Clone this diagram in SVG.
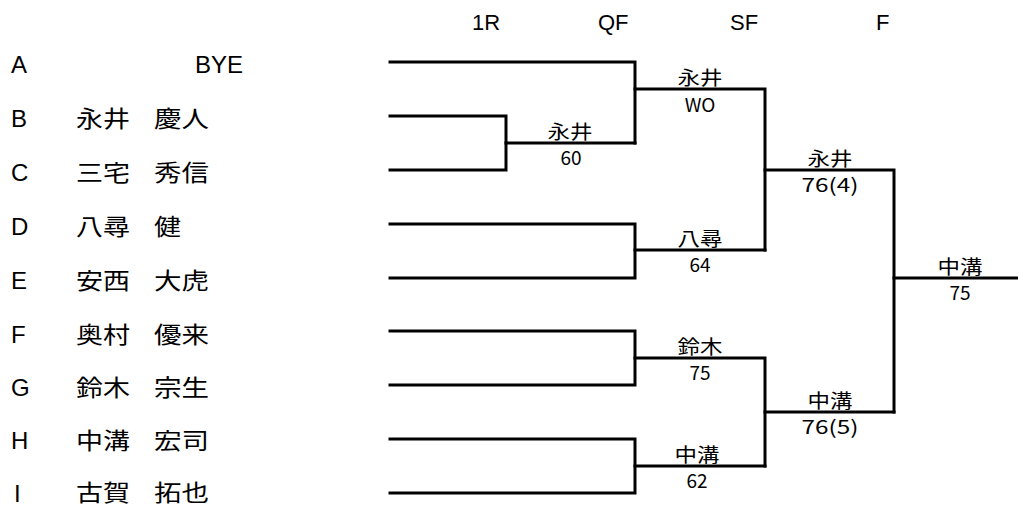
<svg xmlns="http://www.w3.org/2000/svg" width="1018" height="506" viewBox="0 0 1018 506">
<style>
.ln{fill:none;stroke:#000;stroke-width:3;stroke-linecap:square;stroke-linejoin:miter}
.lt{font-family:"Liberation Sans",Arial,sans-serif;font-size:24px;fill:#000}
.hd{font-family:"Liberation Sans",Arial,sans-serif;font-size:22px;fill:#000}
.nm{font-family:"Noto Sans CJK JP","Noto Sans CJK SC",sans-serif;font-size:23px;fill:#000}
.lb{font-family:"Noto Sans CJK JP","Noto Sans CJK SC",sans-serif;font-size:19px;fill:#000;text-anchor:middle}
</style>
<rect width="1018" height="506" fill="#fff"/>
<g id="header">
<text class="hd" x="472" y="30">1R</text>
<text class="hd" x="598" y="30">QF</text>
<text class="hd" x="730" y="30">SF</text>
<text class="hd" x="876" y="30">F</text>
</g>
<g id="player-A"><text class="lt" x="11" y="73">A</text><text class="lt" x="195" y="73">BYE</text></g>
<g id="player-B"><text class="lt" x="11" y="127">B</text><text class="nm" x="76" y="127" textLength="54" lengthAdjust="spacingAndGlyphs">永井</text><text class="nm" x="154" y="127" textLength="55" lengthAdjust="spacingAndGlyphs">慶人</text></g>
<g id="player-C"><text class="lt" x="11" y="181">C</text><text class="nm" x="76" y="181" textLength="54" lengthAdjust="spacingAndGlyphs">三宅</text><text class="nm" x="154" y="181" textLength="55" lengthAdjust="spacingAndGlyphs">秀信</text></g>
<g id="player-D"><text class="lt" x="11" y="235">D</text><text class="nm" x="76" y="235" textLength="54" lengthAdjust="spacingAndGlyphs">八尋</text><text class="nm" x="154" y="235" textLength="27" lengthAdjust="spacingAndGlyphs">健</text></g>
<g id="player-E"><text class="lt" x="11" y="289">E</text><text class="nm" x="76" y="289" textLength="54" lengthAdjust="spacingAndGlyphs">安西</text><text class="nm" x="154" y="289" textLength="55" lengthAdjust="spacingAndGlyphs">大虎</text></g>
<g id="player-F"><text class="lt" x="11" y="343">F</text><text class="nm" x="76" y="343" textLength="54" lengthAdjust="spacingAndGlyphs">奥村</text><text class="nm" x="154" y="343" textLength="55" lengthAdjust="spacingAndGlyphs">優来</text></g>
<g id="player-G"><text class="lt" x="11" y="396">G</text><text class="nm" x="76" y="396" textLength="54" lengthAdjust="spacingAndGlyphs">鈴木</text><text class="nm" x="154" y="396" textLength="55" lengthAdjust="spacingAndGlyphs">宗生</text></g>
<g id="player-H"><text class="lt" x="11" y="449">H</text><text class="nm" x="76" y="449" textLength="54" lengthAdjust="spacingAndGlyphs">中溝</text><text class="nm" x="154" y="449" textLength="55" lengthAdjust="spacingAndGlyphs">宏司</text></g>
<g id="player-I"><text class="lt" x="14" y="502">I</text><text class="nm" x="76" y="501" textLength="54" lengthAdjust="spacingAndGlyphs">古賀</text><text class="nm" x="154" y="501" textLength="55" lengthAdjust="spacingAndGlyphs">拓也</text></g>
<g id="connectors">
<path class="ln" d="M390 62H635V143"/>
<path class="ln" d="M390 116H506V170H390"/>
<path class="ln" d="M506 143H635"/>
<path class="ln" d="M635 89H765V250"/>
<path class="ln" d="M390 224H635V278H390"/>
<path class="ln" d="M635 250H765"/>
<path class="ln" d="M765 170H894V412"/>
<path class="ln" d="M390 331H635V385H390"/>
<path class="ln" d="M635 358H765V466"/>
<path class="ln" d="M390 439H635V493H390"/>
<path class="ln" d="M635 466H765"/>
<path class="ln" d="M765 412H894"/>
<path class="ln" d="M894 278H1018"/>
</g>
<g id="match-1R"><text class="lb" x="570" y="139" textLength="45" lengthAdjust="spacingAndGlyphs">永井</text><text class="lb" x="571" y="165">60</text></g>
<g id="match-QF1"><text class="lb" x="700" y="85" textLength="45" lengthAdjust="spacingAndGlyphs">永井</text><text class="lb" x="700" y="112">WO</text></g>
<g id="match-QF2"><text class="lb" x="700" y="246" textLength="45" lengthAdjust="spacingAndGlyphs">八尋</text><text class="lb" x="700" y="272">64</text></g>
<g id="match-QF3"><text class="lb" x="700" y="354" textLength="45" lengthAdjust="spacingAndGlyphs">鈴木</text><text class="lb" x="700" y="380">75</text></g>
<g id="match-QF4"><text class="lb" x="697" y="462" textLength="45" lengthAdjust="spacingAndGlyphs">中溝</text><text class="lb" x="697" y="488">62</text></g>
<g id="match-SF1"><text class="lb" x="830" y="166" textLength="45" lengthAdjust="spacingAndGlyphs">永井</text><text class="lb" x="830" y="192" textLength="57" lengthAdjust="spacingAndGlyphs">76(4)</text></g>
<g id="match-SF2"><text class="lb" x="830" y="408" textLength="45" lengthAdjust="spacingAndGlyphs">中溝</text><text class="lb" x="830" y="434" textLength="57" lengthAdjust="spacingAndGlyphs">76(5)</text></g>
<g id="match-F"><text class="lb" x="960" y="274" textLength="45" lengthAdjust="spacingAndGlyphs">中溝</text><text class="lb" x="960" y="300">75</text></g>
</svg>
